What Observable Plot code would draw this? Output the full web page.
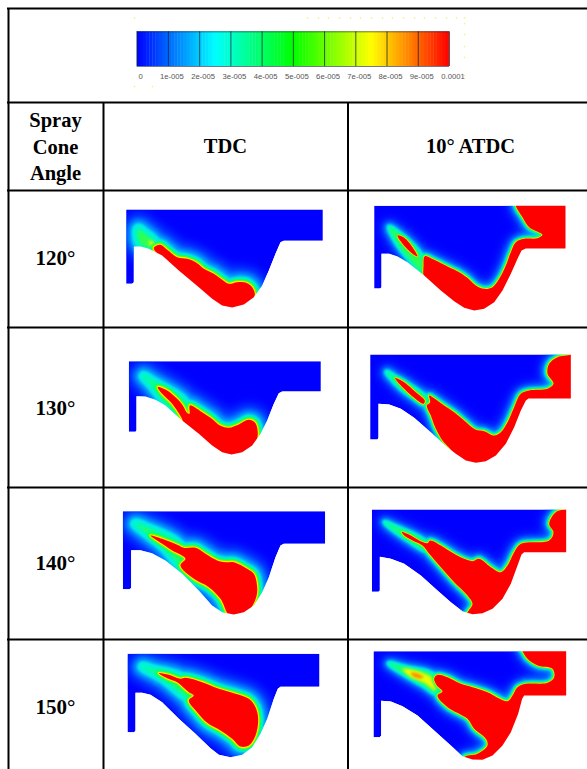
<!DOCTYPE html>
<html><head><meta charset="utf-8">
<script src="https://cdn.jsdelivr.net/npm/d3@7"></script>
<script src="https://cdn.jsdelivr.net/npm/@observablehq/plot@0.6"></script>
<style>html,body{margin:0;padding:0;background:#fff}svg{display:block}</style>
</head><body><div id="chart"></div>
<script>
// colour bar
const barTicks = [0,1e-5,2e-5,3e-5,4e-5,5e-5,6e-5,7e-5,8e-5,9e-5,1e-4];
const barLabels = ["0","1e-005","2e-005","3e-005","4e-005","5e-005","6e-005","7e-005","8e-005","9e-005","0.0001"];
const barStops = [0,2.5e-5,5e-5,7.5e-5,1e-4];
const barColors = ["#0000ff","#00ffff","#00ff00","#ffff00","#ff0000"];
// table text
const rowAngles = ["120°","130°","140°","150°"];
const headerLeft = ["Spray","Cone","Angle"];
const headerCols = ["TDC","10° ATDC"];

// outlines, in crop units (1/3 px) from each panel's origin
const wallA=[[62,57],[652,57],[652,151],[535,151],[525,155],[510,190],[490,240],[470,285],[445,320],[415,342],[380,351],[350,345],[320,325],[280,290],[220,240],[170,195],[130,175],[105,168],[85,168],[85,275],[80,280],[62,280]];
const hotA=[[145,172],[165,163],[185,178],[215,200],[245,205],[275,218],[295,235],[325,250],[350,268],[370,280],[395,275],[425,278],[440,290],[448,312],[430,345],[395,365],[365,365],[335,352],[295,318],[245,272],[195,232],[160,195]];
const coolA=[[98,115],[118,128],[145,150],[155,165],[140,176],[108,165],[98,150]];
const warmA=[[130,150],[150,160],[152,172],[135,166]];
const wallB=[[80,46],[654,46],[654,174],[535,174],[522,180],[510,205],[490,250],[465,300],[440,335],[410,355],[380,360],[350,352],[320,332],[280,300],[230,255],[180,215],[150,198],[125,190],[102,190],[102,290],[98,294],[80,294]];
const hotB=[[505,44],[512,40],[665,40],[665,190],[540,190],[500,290],[450,355],[380,380],[320,355],[232,268],[228,225],[232,197],[260,208],[300,228],[335,245],[360,262],[385,285],[410,295],[435,290],[455,265],[475,225],[490,185],[505,155],[530,145],[570,143],[585,133],[545,110],[525,80]];
const jetB=[[150,135],[170,142],[195,170],[210,198],[198,192],[172,168]];
const coolB=[[125,110],[150,125],[222,198],[230,250],[180,200],[150,160]];
const wallC=[[70,62],[646,62],[646,153],[530,153],[520,158],[505,190],[485,240],[465,280],[440,315],[410,335],[378,342],[350,335],[320,315],[280,280],[230,240],[180,195],[150,178],[120,168],[93,167],[93,270],[90,274],[70,274]];
const hotC=[[157,140],[185,150],[215,175],[232,195],[243,215],[252,220],[253,195],[285,212],[315,232],[345,256],[370,262],[400,252],[430,238],[450,248],[456,290],[438,325],[395,355],[365,355],[325,335],[280,295],[235,248],[228,232],[200,190],[170,160]];
const coolC=[[115,107],[145,125],[240,190],[232,232],[180,185],[140,135]];
const wallD=[[68,42],[670,42],[670,174],[543,174],[535,180],[520,210],[500,260],[475,310],[445,345],[415,362],[385,367],[355,360],[325,340],[300,320],[250,275],[200,232],[160,205],[125,192],[93,190],[93,292],[90,297],[68,297]];
const hotD=[[245,165],[262,175],[290,195],[320,215],[350,240],[385,268],[410,272],[440,285],[460,275],[480,245],[500,200],[520,160],[545,150],[600,145],[618,130],[600,100],[605,70],[630,50],[670,42],[680,30],[680,185],[550,185],[505,285],[450,360],[380,382],[330,355],[305,322],[285,300],[265,265],[250,225],[238,195],[248,185]];
const jetD=[[143,113],[170,125],[205,155],[232,180],[228,190],[200,172],[170,145]];
const coolD=[[118,95],[140,108],[235,172],[238,188],[170,150]];
const wallE=[[52,62],[659,62],[659,160],[535,160],[525,165],[510,200],[490,260],[470,305],[445,345],[415,365],[385,372],[350,365],[320,345],[280,300],[230,250],[180,210],[140,188],[105,179],[77,179],[77,292],[73,296],[52,296]];
const hotE=[[135,135],[170,145],[215,163],[235,172],[270,172],[300,190],[335,210],[360,215],[385,215],[425,235],[445,250],[455,290],[452,320],[430,360],[385,385],[368,372],[345,325],[310,290],[265,265],[225,225],[240,205],[220,190],[200,180],[170,160]];
const coolE=[[90,100],[120,110],[225,168],[225,222],[170,165]];
const wallF=[[73,57],[656,57],[656,185],[530,185],[522,192],[510,225],[490,280],[465,325],[435,355],[405,368],[375,371],[345,362],[310,335],[270,300],[220,255],[170,220],[130,205],[97,199],[97,300],[93,304],[73,304]];
const hotF=[[163,125],[190,135],[215,150],[240,158],[248,150],[280,165],[320,190],[350,205],[375,212],[395,205],[430,230],[460,245],[480,225],[500,185],[520,160],[605,150],[618,125],[605,100],[625,65],[660,55],[675,45],[675,200],[540,200],[505,295],[445,370],[380,385],[358,372],[375,340],[360,315],[320,275],[280,230],[245,190],[225,165],[195,150],[170,135]];
const coolF=[[112,96],[135,105],[238,158],[240,180],[170,140]];
const wallG=[[66,55],[642,55],[642,154],[525,154],[517,160],[505,190],[485,250],[465,295],[440,335],[410,358],[375,365],[340,358],[315,338],[270,295],[220,250],[170,200],[135,178],[110,172],[90,172],[90,285],[86,290],[66,290]];
const hotG=[[160,113],[190,118],[225,130],[240,127],[290,140],[340,160],[390,175],[430,190],[450,215],[458,250],[450,300],[430,330],[405,333],[380,310],[345,285],[305,262],[275,230],[250,195],[265,180],[250,170],[238,160],[215,140],[185,128]];
const coolG=[[112,94],[145,103],[235,132],[248,185],[175,130]];
const wallH=[[78,47],[656,47],[656,180],[530,180],[524,190],[512,235],[490,290],[465,330],[435,360],[405,373],[375,372],[345,362],[310,330],[260,285],[210,240],[165,212],[130,198],[101,196],[101,300],[97,305],[78,305]];
const hotH=[[270,118],[300,125],[340,145],[375,155],[420,170],[480,197],[495,180],[510,155],[535,145],[600,142],[620,125],[615,100],[570,90],[540,70],[525,47],[520,35],[670,35],[670,195],[535,195],[495,305],[435,385],[370,390],[350,365],[390,355],[420,330],[415,310],[380,280],[360,250],[300,215],[270,180],[285,168],[268,150],[260,130]];
const coolH=[[125,84],[170,95],[262,122],[266,172],[230,150],[170,115]];
const warmH=[[165,100],[215,108],[262,135],[264,165],[230,142],[185,122]];
const coreH=[[190,112],[210,114],[228,125],[215,129],[197,122]];

const panelList = [
  {col:0,row:0,ox:105,oy:190,wall:wallA,hot:[hotA],cool:[coolA],warm:[warmA],core:[]},
  {col:1,row:0,ox:347,oy:190,wall:wallB,hot:[hotB,jetB],cool:[coolB],warm:[],core:[]},
  {col:0,row:1,ox:105,oy:340,wall:wallC,hot:[hotC],cool:[coolC],warm:[],core:[]},
  {col:1,row:1,ox:347,oy:340,wall:wallD,hot:[hotD,jetD],cool:[coolD],warm:[],core:[]},
  {col:0,row:2,ox:105,oy:490,wall:wallE,hot:[hotE],cool:[coolE],warm:[],core:[]},
  {col:1,row:2,ox:347,oy:490,wall:wallF,hot:[hotF],cool:[coolF],warm:[],core:[]},
  {col:0,row:3,ox:105,oy:635,wall:wallG,hot:[hotG],cool:[coolG],warm:[],core:[]},
  {col:1,row:3,ox:347,oy:635,wall:wallH,hot:[hotH],cool:[coolH],warm:[warmH],core:[coreH]}
];
const rowLines = [102,190,327,487,639];
const colLines = [103,347.5];

const rows = (rings, p, tag) => rings.flatMap((r,i) => r.map(([a,b]) => ({id:`${tag}${p.col}${p.row}${i}`, col:p.col, x:p.ox+a/3, y:p.oy+b/3})));
const all = key => panelList.flatMap(p => rows(p[key], p, key));
const walls = panelList.flatMap(p => rows([p.wall], p, "wall"));
const hot = all("hot"), cool = all("cool"), warm = all("warm"), core = all("core");
const cellTop = [172,327,487,639], cellBottom = [327,487,639,790], cellLeft=[103,347], cellRight=[347,600];
const masks = panelList.flatMap(p => {
  const l=cellLeft[p.col], r=cellRight[p.col], t=cellTop[p.row], b=cellBottom[p.row], w=p.wall, id=`m${p.col}${p.row}`;
  const ring=[[l,t],[l,b],[r,b],[r,t],[l,t]].concat(w.concat([w[0]]).map(([a,c])=>[p.ox+a/3,p.oy+c/3]));
  ring.push([l,t]);
  return ring.map(([x,y])=>({id,x,y}));
});
const barFine = d3.range(0,1e-4,1e-6);
const barX = d3.scaleLinear([0,1e-4],[136.7,449]);
const wallPos = {x:"x",y:"y",z:"id",curve:"linear-closed"};
const pos = {x:"x",y:"y",z:"id",curve:"catmull-rom-closed"};
const onTDC = d=>d.col===0, onATDC = d=>d.col===1;
const band = (data, filter, stroke, strokeWidth, blur) => Plot.line(data,{...pos,filter,stroke,strokeWidth,strokeLinejoin:"round",imageFilter:blur?`blur(${blur}px)`:undefined});
const hazes = (data, filter, k) => [
  band(data,filter,"#0050ff",30*k,5),
  band(data,filter,"#00a8ff",18*k,2.6),
  band(data,filter,"#00f0e0",11*k,1.3)
];
const rims = (data, filter, k) => [
  band(data,filter,"#00ff80",7.5*k,0.8),
  band(data,filter,"#60ff00",4.4*k,0.5),
  band(data,filter,"#ffe800",2.2*k,0.4)
];
const dotsX=[307,318,328,339,350,360,371,382,392,403,414,424,435,446,456,464,464,464,464,464,464,134,134,152];
const dotsY=[17.5,17.5,17.5,17.5,17.5,17.5,17.5,17.5,17.5,17.5,17.5,17.5,17.5,17.5,17.5,17.5,23,34,46,57,75,17.5,86,86];
const serif="'Liberation Serif','Times New Roman',serif";
const plot = Plot.plot({
  width:587,height:769,margin:0,
  x:{domain:[0,587],range:[0,587],axis:null},
  y:{domain:[0,769],range:[0,769],axis:null},
  color:{type:"linear",domain:barStops,range:barColors,interpolate:"rgb"},
  style:{background:"#fff"},
  marks:[
    Plot.dot(dotsX.map((x,i)=>({x,y:dotsY[i]})),{x:"x",y:"y",r:0.9,fill:"#f6f29a"}),
    Plot.rect(barFine,{x1:d=>barX(d),x2:d=>Math.min(barX(d+1e-6)+0.4,449),y1:()=>31.3,y2:()=>66,fill:d=>d+5e-7}),
    Plot.ruleX(barTicks,{x:d=>barX(d),y1:()=>31.3,y2:()=>66,stroke:"#0c2a30",strokeOpacity:0.75,strokeWidth:1}),
    Plot.ruleY([31.3,66],{x1:()=>136.7,x2:()=>449,y:d=>d,stroke:"#102040",strokeOpacity:0.6,strokeWidth:1}),
    Plot.text(barLabels,{x:(d,i)=>barX(barTicks[i])+3.5,y:()=>76,text:d=>d,fontFamily:"'Liberation Sans',Arial,sans-serif",fontSize:7.7,fill:"#555"}),

    Plot.line(walls,{...wallPos,fill:"#0000ff",stroke:"none"}),
    ...hazes(hot.concat(cool),onTDC,1),
    ...hazes(hot.concat(cool),onATDC,0.5),
    Plot.line(cool,{...pos,fill:"#30ff50",stroke:"#00ffa0",strokeWidth:2,imageFilter:"blur(1.6px)"}),
    Plot.line(warm,{...pos,fill:"#e8ff00",stroke:"none",imageFilter:"blur(1.5px)"}),
    Plot.line(core,{...pos,fill:"#ff9000",stroke:"none",imageFilter:"blur(1px)"}),
    ...rims(hot,onTDC,1),
    ...rims(hot,onATDC,0.55),
    Plot.line(hot,{...pos,fill:"#ff0000",stroke:"none",imageFilter:"blur(0.4px)"}),
    Plot.line(masks,{...wallPos,fill:"#fff",stroke:"none",imageFilter:"blur(0.5px)"}),

    Plot.ruleX([8],{x:d=>d,y1:()=>8,y2:()=>769,stroke:"#000",strokeWidth:2}),
    Plot.ruleX(colLines,{x:d=>d,y1:()=>102,y2:()=>769,stroke:"#000",strokeWidth:2}),
    Plot.ruleY([8].concat(rowLines),{y:d=>d,x1:()=>7,x2:()=>587,stroke:"#000",strokeWidth:2}),

    Plot.text(headerLeft,{x:()=>55,y:(d,i)=>120+i*26.5,text:d=>d,fontFamily:serif,fontWeight:"bold",fontSize:20.5,fill:"#000"}),
    Plot.text(headerCols,{x:(d,i)=>[225,470][i],y:()=>146,text:d=>d,fontFamily:serif,fontWeight:"bold",fontSize:20.5,fill:"#000"}),
    Plot.text(rowAngles,{x:()=>55,y:(d,i)=>[258,408,563,707][i],text:d=>d,fontFamily:serif,fontWeight:"bold",fontSize:21,fill:"#000"})
  ]
});
document.getElementById("chart").append(plot);
</script></body></html>
